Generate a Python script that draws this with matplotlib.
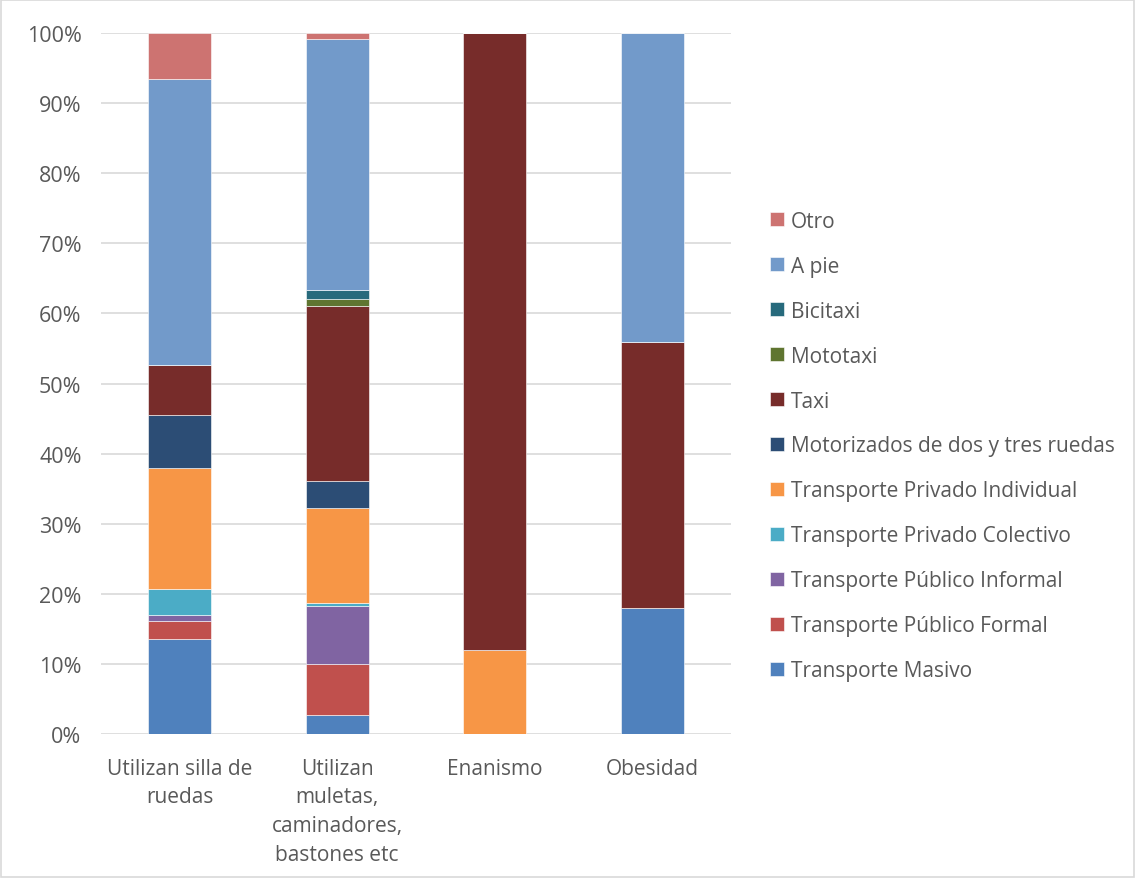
import matplotlib.pyplot as plt
from matplotlib.patches import Rectangle
from matplotlib.ticker import PercentFormatter

categories = ["Utilizan silla de\nruedas", "Utilizan\nmuletas,\ncaminadores,\nbastones etc",
              "Enanismo", "Obesidad"]

series_names = ["Transporte Masivo", "Transporte Público Formal", "Transporte Público Informal",
                "Transporte Privado Colectivo", "Transporte Privado Individual",
                "Motorizados de dos y tres ruedas", "Taxi", "Mototaxi", "Bicitaxi", "A pie", "Otro"]

masivo = [13.6, 2.7, 0.0, 18.0]
publico_formal = [2.5, 7.3, 0.0, 0.0]
publico_informal = [0.9, 8.3, 0.0, 0.0]
privado_colectivo = [3.7, 0.4, 0.0, 0.0]
privado_individual = [17.2, 13.5, 12.0, 0.0]
motorizados = [7.6, 3.9, 0.0, 0.0]
taxi = [7.1, 24.9, 88.0, 37.9]
mototaxi = [0.0, 1.1, 0.0, 0.0]
bicitaxi = [0.0, 1.2, 0.0, 0.0]
a_pie = [40.8, 35.8, 0.0, 44.1]
otro = [6.6, 0.9, 0.0, 0.0]

colors = ["#4F81BD", "#C0504D", "#8064A2", "#4BACC6", "#F79646", "#2C4D75",
          "#772C2A", "#5F7530", "#276A7C", "#729ACA", "#CD7371"]

values = [masivo, publico_formal, publico_informal, privado_colectivo, privado_individual,
          motorizados, taxi, mototaxi, bicitaxi, a_pie, otro]

plt.rcParams["font.family"] = ["Open Sans", "DejaVu Sans"]
text_color = "#595959"

fig = plt.figure(figsize=(11.35, 8.79), dpi=100)
ax = fig.add_axes([0.089, 0.1638, 0.555, 0.7975])

x = range(len(categories))
bottom = [0.0] * len(categories)
handles = []
for name, vals, col in zip(series_names, values, colors):
    fracs = [v / 100 for v in vals]
    h = ax.bar(x, fracs, width=0.4, bottom=[b / 100 for b in bottom], color=col,
               edgecolor="white", linewidth=0.4, label=name, zorder=3)
    handles.append(h)
    bottom = [b + v for b, v in zip(bottom, vals)]

ax.set_xlim(-0.5, len(categories) - 0.5)
ax.set_ylim(0, 1)
ax.set_yticks([i / 10 for i in range(11)])
ax.yaxis.set_major_formatter(PercentFormatter(1.0, decimals=0))
ax.set_xticks(list(x))
ax.set_xticklabels(categories, linespacing=1.48)
ax.tick_params(axis="both", length=0, labelcolor=text_color)
ax.tick_params(axis="y", pad=14, labelsize=15.5)
ax.tick_params(axis="x", pad=17, labelsize=15)
ax.grid(axis="y", color="#D9D9D9", linewidth=1.2, zorder=0)
for side in ["top", "right", "left", "bottom"]:
    ax.spines[side].set_visible(False)

leg = fig.legend(handles[::-1], series_names[::-1], loc="center left",
                 bbox_to_anchor=(0.662, 0.4915), frameon=False, fontsize=15,
                 handlelength=0.65, handleheight=0.65, handletextpad=0.35,
                 labelspacing=1.15, labelcolor=text_color)

fig.patches.append(Rectangle((0.001, 0.001), 0.998, 0.998, transform=fig.transFigure,
                             fill=False, edgecolor="#D9D9D9", linewidth=1.2))

fig.savefig("out.png", dpi=100)
